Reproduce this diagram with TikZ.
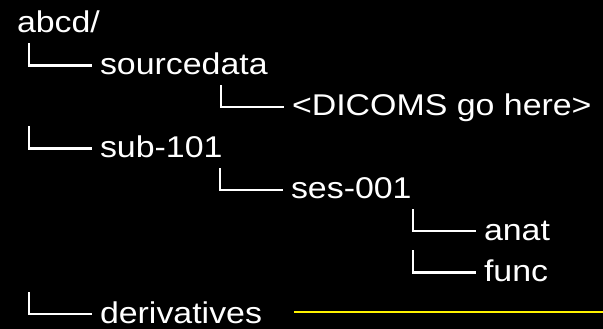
\documentclass[tikz,border=0pt]{standalone}
\usepackage{fontspec}
\setmainfont{Liberation Sans}[FakeStretch=1.13]
\begin{document}
\begin{tikzpicture}[x=1pt,y=-1pt,
  lbl/.style={anchor=base west,inner sep=0pt,outer sep=0pt,text=white,
    font=\fontsize{30pt}{35pt}\selectfont},
  treeline/.style={draw=white,line width=2.4pt},
  hiline/.style={draw=yellow,line width=2.6pt}]
\fill[black] (0,0) rectangle (603,329);
\useasboundingbox (0,0) rectangle (603,329);
% nodes
\node[lbl] (root)   at (17,33)    {abcd/};
\node[lbl] (source) at (100,74.4) {sourcedata};
\node[lbl] (dicom)  at (292,115.9) {<DICOMS go here>};
\node[lbl] (sub)    at (100,157.3) {sub-101};
\node[lbl] (ses)    at (291,198.7) {ses-001};
\node[lbl] (anat)   at (484,240)  {anat};
\node[lbl] (func)   at (484,281.6) {func};
\node[lbl] (deriv)  at (100,323)  {derivatives};
% tree corners
\foreach \n in {source,dicom,sub,ses,anat,func,deriv}{
  \draw[treeline,line cap=rect] ([shift={(-71pt,30pt)}]\n.base west) |- ([shift={(-9pt,9pt)}]\n.base west);
}
% highlight line
\coordinate (hs) at ([shift={(32pt,11pt)}]deriv.base east);
\coordinate (edge) at (603,312);
\draw[hiline] (hs) -- (hs -| edge);
\end{tikzpicture}
\end{document}
